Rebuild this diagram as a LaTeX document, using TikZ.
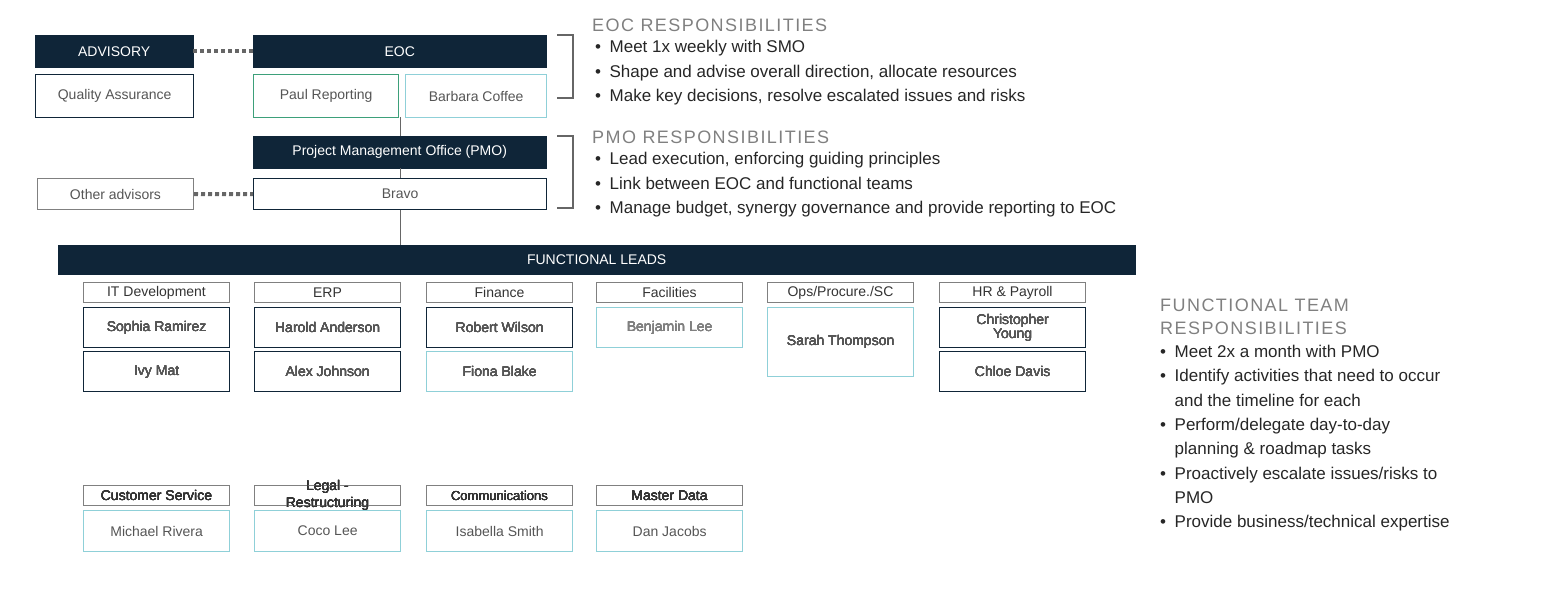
\documentclass[tikz,border=0pt]{standalone}
\usepackage{fontspec}
\setmainfont{Liberation Sans}
\usepackage{tikz}
\definecolor{navy}{HTML}{0F2538}
\definecolor{teal}{HTML}{8FD0D8}
\definecolor{mint}{HTML}{3DA07A}
\definecolor{greytxt}{HTML}{555555}
\tikzset{
  darkbox/.style={fill=navy,draw=navy,text=white,font=\fontsize{14}{16}\selectfont,anchor=north west},
  namebox/.style={draw=navy,line width=1.3pt,text=greytxt,font=\fontsize{14}{16}\selectfont,anchor=north west,align=center},
  lightbox/.style={namebox,draw=teal},
  headbox/.style={draw=gray,line width=1pt,text=black!80,font=\fontsize{14}{16}\selectfont,anchor=north west,inner sep=0pt},
  dots/.style={line width=4pt,draw=gray!80!black,dash pattern=on 4pt off 3pt},
  link/.style={draw=gray!80!black,line width=1pt},
  bullets/.style={anchor=north west,align=left,font=\fontsize{17}{24.5}\selectfont,text=black!85,inner sep=0pt},
  title/.style={anchor=north west,align=left,font=\fontsize{18}{23}\selectfont\addfontfeature{LetterSpace=8},text=gray,inner sep=0pt}
}
\newcommand{\bx}[6]{\node[#1,minimum width=#4pt,minimum height=#5pt] (#2) at (#3) {#6};}
\begin{document}
\begin{tikzpicture}[x=1pt,y=-1pt]
\useasboundingbox (0,0) rectangle (1546,590);
% top: governance
\bx{darkbox}{adv}{35,35}{158}{32}{ADVISORY}
\bx{darkbox}{eoc}{253,35}{293}{32}{EOC}
\bx{namebox}{qa}{35,74}{158}{43}{Quality Assurance}
\bx{namebox,draw=mint}{paul}{253,74}{145}{43}{Paul Reporting}
\bx{lightbox}{barb}{405,74}{141}{43}{Barbara Coffee}
\bx{darkbox}{pmo}{253,136}{293}{32}{Project Management Office (PMO)}
\bx{namebox}{bravo}{253,178}{293}{31}{Bravo}
\bx{namebox,draw=gray,line width=1pt}{oth}{37,178}{156}{31}{Other advisors}
\bx{darkbox}{fl}{58,245}{1077}{29}{FUNCTIONAL LEADS}
% links
\draw[dots] (adv.east) -- (eoc.west);
\draw[dots] (oth.east) -- (bravo.west);
\coordinate (c1) at (400,117);
\draw[link] (c1) -- (c1|-pmo.north);
\draw[link] (c1|-pmo.south) -- (c1|-bravo.north);
\draw[link] (c1|-bravo.south) -- (c1|-fl.north);
% brackets
\draw[link,line width=1.3pt] (557,35) -- (573,35) -- (573,98) -- (557,98);
\draw[link,line width=1.3pt] (557,136) -- (573,136) -- (573,208) -- (557,208);
% functional teams
\foreach \x/\h/\n in {83/IT Development/it,254/ERP/erp,426/Finance/fin,596/Facilities/fac,767/{Ops/Procure./SC}/ops,939/HR \& Payroll/hr}
  \bx{headbox}{\n}{\x,282}{146}{20}{\h}
\bx{namebox}{soph}{83,307}{146}{40}{Sophia Ramirez}
\bx{namebox}{ivy}{83,351}{146}{40}{Ivy Mat}
\bx{namebox}{har}{254,307}{146}{40}{Harold Anderson}
\bx{namebox}{alex}{254,351}{146}{40}{Alex Johnson}
\bx{namebox}{rob}{426,307}{146}{40}{Robert Wilson}
\bx{lightbox}{fio}{426,351}{146}{40}{Fiona Blake}
\bx{lightbox}{ben}{596,307}{146}{40}{\textcolor{gray}{Benjamin Lee}}
\bx{lightbox}{sar}{767,307}{146}{69}{Sarah Thompson}
\bx{namebox}{chr}{939,307}{146}{40}{Christopher\\[-2pt]Young}
\bx{namebox}{chl}{939,351}{146}{40}{Chloe Davis}
\bx{headbox}{cs}{83,485}{146}{20}{Customer Service}
\bx{headbox}{leg}{254,485}{146}{20}{}
\bx{headbox}{com}{426,485}{146}{20}{\fontsize{13}{15}\selectfont Communications}
\bx{headbox}{md}{596,485}{146}{20}{Master Data}
\node[font=\fontsize{14}{17}\selectfont,text=black!80,align=center] (legt) at (leg.center) {Legal -\\Restructuring};
\bx{lightbox}{mic}{83,510}{146}{41}{Michael Rivera}
\bx{lightbox}{coco}{254,510}{146}{41}{Coco Lee}
\bx{lightbox}{isa}{426,510}{146}{41}{Isabella Smith}
\bx{lightbox}{dan}{596,510}{146}{41}{Dan Jacobs}
% responsibilities
\node[title] (t1) at (592,19) {EOC RESPONSIBILITIES};
\node[bullets] (b1) at (595,40) {•\enspace Meet 1x weekly with SMO\\•\enspace Shape and advise overall direction, allocate resources\\•\enspace Make key decisions, resolve escalated issues and risks};
\node[title] (t2) at (592,131) {PMO RESPONSIBILITIES};
\node[bullets] (b2) at (595,152) {•\enspace Lead execution, enforcing guiding principles\\•\enspace Link between EOC and functional teams\\•\enspace Manage budget, synergy governance and provide reporting to EOC};
\node[title] (t3) at (1160,299) {FUNCTIONAL TEAM\\RESPONSIBILITIES};
\node[bullets,font=\fontsize{17}{24.3}\selectfont] (b3) at (1160,345) {•\enspace Meet 2x a month with PMO\\•\enspace Identify activities that need to occur\\\phantom{•\enspace }and the timeline for each\\•\enspace Perform/delegate day-to-day\\\phantom{•\enspace }planning \& roadmap tasks\\•\enspace Proactively escalate issues/risks to\\\phantom{•\enspace }PMO\\•\enspace Provide business/technical expertise};
\end{tikzpicture}
\end{document}
